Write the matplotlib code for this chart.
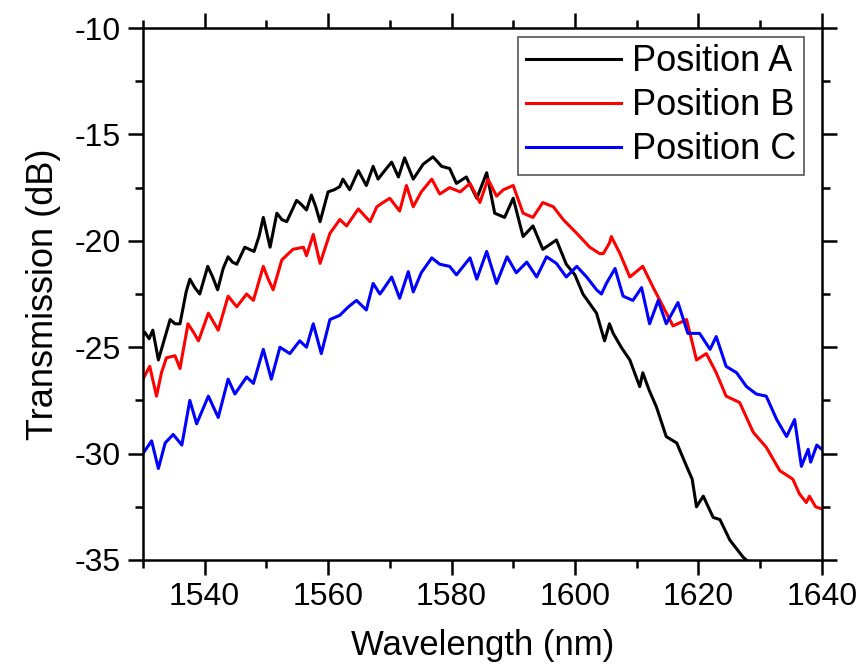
import matplotlib
matplotlib.use("Agg")
import numpy as np
from matplotlib import pyplot as plt
from matplotlib.ticker import MultipleLocator

plt.rcParams['font.family'] = ['Liberation Sans', 'DejaVu Sans']
plt.rcParams['axes.unicode_minus'] = False

# wavelength (nm) and transmission (dB)
wl_a = [1530.0, 1530.3, 1531.0, 1531.6, 1532.5, 1533.3, 1534.4, 1535.2, 1536.0, 1537.0,
        1537.6, 1538.4, 1539.2, 1540.5, 1541.3, 1542.1, 1543.0, 1543.8, 1544.5, 1545.2,
        1546.5, 1548.0, 1548.8, 1549.5, 1550.6, 1551.7, 1552.5, 1553.3, 1554.9, 1555.7,
        1556.5, 1557.3, 1558.0, 1558.7, 1560.0, 1561.0, 1561.9, 1562.4, 1563.5, 1564.9,
        1566.2, 1567.3, 1568.1, 1568.9, 1570.3, 1571.4, 1572.4, 1573.8, 1575.4, 1577.0,
        1578.4, 1579.7, 1580.8, 1582.4, 1584.1, 1585.7, 1587.0, 1588.6, 1590.0, 1591.6,
        1593.2, 1594.8, 1597.0, 1598.6, 1600.0, 1601.3, 1603.5, 1604.8, 1605.6, 1606.2,
        1607.5, 1608.9, 1610.5, 1611.0, 1612.0, 1613.2, 1614.8, 1616.5, 1618.1, 1619.0,
        1619.7, 1620.8, 1622.4, 1623.5, 1625.1, 1627.2, 1628.5, 1630.0]
pos_a = [-24.4, -24.3, -24.6, -24.2, -25.6, -24.8, -23.7, -23.9, -23.9, -22.4,
         -21.8, -22.2, -22.5, -21.2, -21.7, -22.3, -21.3, -20.75, -21.0, -21.1,
         -20.3, -20.5, -19.8, -18.9, -20.3, -18.7, -19.0, -19.1, -18.1, -18.3,
         -18.55, -17.85, -18.4, -19.1, -17.7, -17.6, -17.45, -17.1, -17.6, -16.7,
         -17.4, -16.5, -17.1, -16.8, -16.3, -17.0, -16.1, -17.1, -16.4, -16.05,
         -16.5, -16.6, -17.3, -17.0, -18.0, -16.8, -18.7, -18.9, -18.0, -19.8,
         -19.3, -20.4, -19.96, -21.1, -21.6, -22.5, -23.4, -24.7, -23.9, -24.35,
         -25.0, -25.6, -26.85, -26.2, -27.0, -27.8, -29.2, -29.5, -30.6, -31.2,
         -32.5, -32.0, -33.0, -33.1, -34.06, -34.85, -35.2, -35.8]

wl_b = [1530.0, 1531.1, 1532.2, 1533.0, 1533.8, 1535.2, 1536.0, 1537.3, 1538.2, 1539.0,
        1540.6, 1541.4, 1542.2, 1543.8, 1545.2, 1546.8, 1547.9, 1549.5, 1550.3, 1551.1,
        1552.5, 1554.3, 1556.0, 1556.5, 1557.6, 1558.7, 1560.3, 1561.9, 1563.0, 1564.9,
        1566.8, 1567.9, 1568.9, 1570.0, 1571.6, 1572.7, 1573.8, 1575.1, 1576.8, 1578.1,
        1579.7, 1581.4, 1583.0, 1584.6, 1585.9, 1587.3, 1588.4, 1590.0, 1591.6, 1593.2,
        1594.8, 1596.5, 1598.1, 1600.3, 1602.4, 1604.0, 1604.6, 1605.6, 1605.9, 1607.3,
        1608.9, 1611.0, 1612.7, 1614.3, 1615.9, 1618.1, 1619.7, 1621.3, 1622.9, 1624.5,
        1626.7, 1628.9, 1631.0, 1633.2, 1635.3, 1636.4, 1637.5, 1638.0, 1639.0, 1640.0]
pos_b = [-26.5, -25.9, -27.3, -26.2, -25.5, -25.4, -26.0, -23.9, -24.3, -24.7,
         -23.4, -23.8, -24.2, -22.6, -23.1, -22.5, -22.8, -21.2, -21.8, -22.3,
         -20.9, -20.4, -20.3, -20.7, -19.7, -21.06, -19.65, -19.0, -19.3, -18.5,
         -19.1, -18.4, -18.2, -18.0, -18.6, -17.4, -18.4, -17.7, -17.1, -17.8,
         -17.5, -17.7, -17.3, -18.2, -17.1, -17.9, -17.6, -17.4, -18.7, -18.9,
         -18.2, -18.4, -19.0, -19.65, -20.3, -20.6, -20.6, -20.1, -19.8, -20.6,
         -21.7, -21.2, -22.2, -23.1, -24.0, -23.7, -25.6, -25.3, -26.2, -27.3,
         -27.6, -29.0, -29.7, -30.8, -31.2, -31.9, -32.3, -32.0, -32.5, -32.6]

wl_c = [1530.0, 1531.4, 1532.5, 1533.6, 1534.9, 1536.3, 1537.6, 1538.7, 1540.6, 1542.2,
        1543.8, 1544.9, 1546.8, 1547.9, 1549.5, 1550.8, 1552.2, 1553.8, 1555.4, 1556.5,
        1557.6, 1558.9, 1560.3, 1561.9, 1563.3, 1564.6, 1566.2, 1567.3, 1568.4, 1568.9,
        1570.3, 1571.6, 1573.0, 1573.8, 1575.1, 1576.8, 1578.1, 1579.7, 1580.8, 1581.9,
        1583.0, 1584.1, 1585.7, 1587.3, 1589.0, 1590.5, 1592.2, 1593.8, 1595.4, 1597.0,
        1598.6, 1600.3, 1601.9, 1603.5, 1604.3, 1605.1, 1606.5, 1607.8, 1609.4, 1610.8,
        1612.1, 1613.5, 1614.8, 1616.7, 1618.3, 1620.2, 1621.9, 1622.9, 1624.5, 1626.2,
        1627.8, 1629.4, 1631.0, 1632.7, 1634.3, 1635.6, 1636.7, 1637.8, 1638.2, 1639.2,
        1640.0]
pos_c = [-30.0, -29.4, -30.7, -29.5, -29.1, -29.6, -27.5, -28.6, -27.3, -28.3,
         -26.5, -27.2, -26.4, -26.7, -25.1, -26.5, -25.0, -25.3, -24.7, -25.0,
         -23.9, -25.3, -23.7, -23.5, -23.1, -22.8, -23.25, -22.0, -22.5, -22.3,
         -21.7, -22.7, -21.45, -22.4, -21.5, -20.8, -21.1, -21.2, -21.6, -21.2,
         -20.8, -21.8, -20.5, -22.0, -20.75, -21.5, -21.0, -21.7, -20.75, -21.06,
         -21.7, -21.2, -21.7, -22.3, -22.5, -22.0, -21.3, -22.6, -22.8, -22.2,
         -23.9, -22.8, -23.9, -22.9, -24.35, -24.35, -25.1, -24.5, -25.9, -26.2,
         -26.85, -27.2, -27.3, -28.4, -29.2, -28.4, -30.6, -29.8, -30.4, -29.6,
         -29.8]

labels = ["Position A", "Position B", "Position C"]
colors = ["black", "red", "blue"]

fig = plt.figure(figsize=(8.56, 6.68), dpi=100)
ax = fig.add_axes([0.167, 0.1617, 0.793, 0.7963])

for wl, vals, lab, col in zip([wl_a, wl_b, wl_c], [pos_a, pos_b, pos_c], labels, colors):
    ax.plot(wl, vals, color=col, lw=2.2, label=lab)

ax.set_xlim(1530, 1640)
ax.set_ylim(-35, -10)
ax.xaxis.set_major_locator(MultipleLocator(20))
ax.xaxis.set_minor_locator(MultipleLocator(10))
ax.yaxis.set_major_locator(MultipleLocator(5))
ax.yaxis.set_minor_locator(MultipleLocator(2.5))
ax.set_xticks(np.arange(1540, 1641, 20))

ax.tick_params(which="both", direction="out", top=True, right=True, width=1.8,
               labelsize=23, pad=5)
ax.tick_params(which="major", length=11)
ax.tick_params(which="minor", length=6)
for s in ax.spines.values():
    s.set_linewidth(1.8)

ax.set_xlabel("Wavelength (nm)", fontsize=25, labelpad=12)
ax.set_ylabel("Transmission (dB)", fontsize=26, labelpad=10)

leg = ax.legend(loc="upper right", bbox_to_anchor=(0.9735, 0.983), borderaxespad=0,
                fontsize=26, handlelength=2.65, handletextpad=0.3, fancybox=False,
                framealpha=1, edgecolor="#555555", borderpad=0.2, labelspacing=0.25)
leg.get_frame().set_linewidth(1.2)

plt.savefig("out.png", dpi=100)
